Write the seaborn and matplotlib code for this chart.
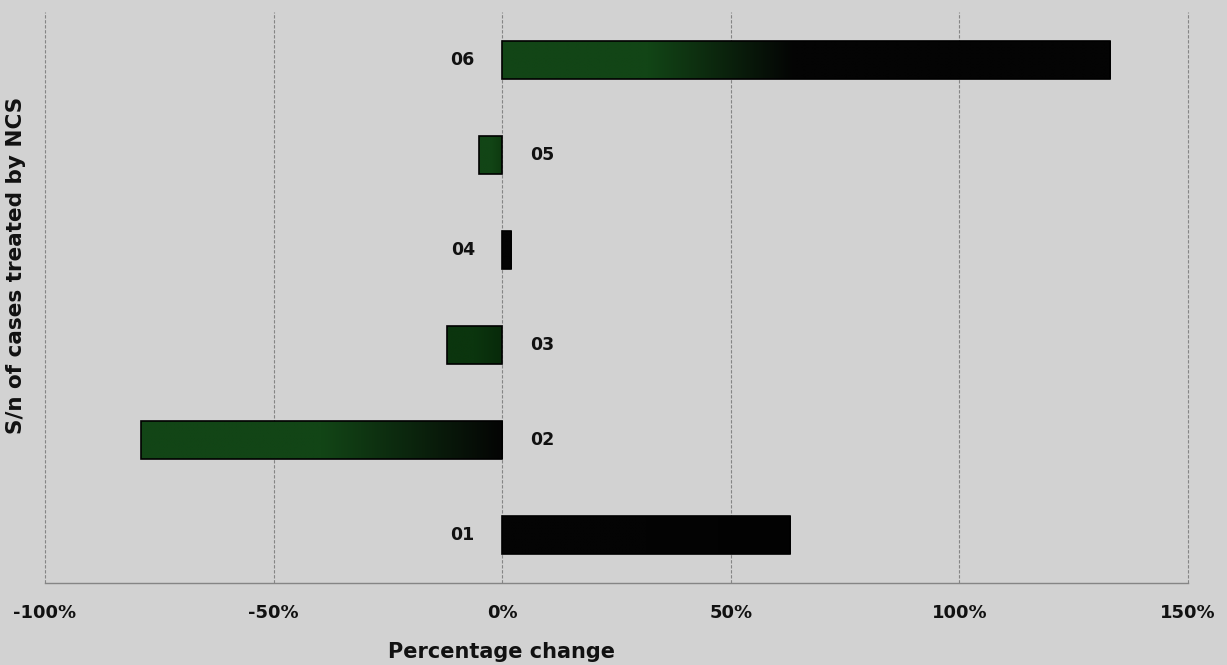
import numpy as np
import pandas as pd
import matplotlib
matplotlib.use("Agg")
import matplotlib.pyplot as plt
from matplotlib.colors import LinearSegmentedColormap, to_rgb
import seaborn as sns

# Data: percentage change per case
cases = ["06", "05", "04", "03", "02", "01"]
pct_change = [133, -5, 2, -12, -79, 63]
xticks = [-100, -50, 0, 50, 100, 150]
xtick_labels = ["-100%", "-50%", "0%", "50%", "100%", "150%"]

# Bar fill: start colour (left end) -> end colour (right end), and where the end colour is reached
GREEN = "#124516"
DARK_GREEN = "#0b350e"
BLACK = "#040404"
fills = {
    "06": (GREEN, BLACK, 0.48),
    "05": (GREEN, "#0e3a10", 1.0),
    "04": (BLACK, BLACK, 1.0),
    "03": (DARK_GREEN, "#082a0a", 1.0),
    "02": (GREEN, BLACK, 1.0),
    "01": (BLACK, "#020202", 1.0),
}

df = pd.DataFrame({"case": cases, "change": pct_change})

sns.set_theme(style="white")
plt.rcParams["font.family"] = ["DejaVu Sans"]

BG = "#d2d2d2"
fig = plt.figure(figsize=(12.27, 6.65), dpi=100, facecolor=BG)
ax = fig.add_axes([0.0367, 0.1233, 0.9315, 0.8587])
ax.set_facecolor(BG)

sns.barplot(data=df, x="change", y="case", order=cases, orient="h",
            color=BLACK, width=0.4, edgecolor="none", ax=ax, zorder=3)

# Horizontal gradient clipped to each bar
for patch, case in zip(ax.patches, cases):
    c0, c1, reach = fills[case]
    stops = [(0, to_rgb(c0)), (0.5 * reach, to_rgb(c0)), (reach, to_rgb(c1))]
    if reach < 1:
        stops.append((1, to_rgb(c1)))
    cmap = LinearSegmentedColormap.from_list("fill_" + case, stops)
    x0, y0 = patch.get_x(), patch.get_y()
    w, h = patch.get_width(), patch.get_height()
    grad = np.linspace(0, 1, 256).reshape(1, -1)
    im = ax.imshow(grad, cmap=cmap, aspect="auto",
                   extent=[min(x0, x0 + w), max(x0, x0 + w), y0 + h, y0],
                   zorder=4, interpolation="bilinear")
    im.set_clip_path(patch)
    patch.set_edgecolor("#000000")
    patch.set_linewidth(1.2)
    patch.set_zorder(5)
    patch.set_facecolor("none")

ax.set_xlim(-100, 150)
ax.set_ylim(len(cases) - 0.5, -0.5)

# Category labels sit at the zero line, opposite to the bar
for i, (case, val) in enumerate(zip(cases, pct_change)):
    if val >= 0:
        ax.text(-6, i, case, ha="right", va="center", fontsize=12.5,
                fontweight="bold", color="#111111", zorder=6)
    else:
        ax.text(6, i, case, ha="left", va="center", fontsize=12.5,
                fontweight="bold", color="#111111", zorder=6)

ax.set_yticks([])
ax.set_xticks(xticks)
ax.set_xticklabels(xtick_labels, fontsize=13, fontweight="bold", color="#111111")
ax.tick_params(axis="x", length=0, pad=15)

for x in xticks:
    ax.axvline(x, color="#858585", linewidth=0.8, linestyle=(0, (3, 1.5)),
               zorder=1, clip_on=False)

for side in ["top", "right", "left"]:
    ax.spines[side].set_visible(False)
ax.spines["bottom"].set_color("#858585")
ax.spines["bottom"].set_linewidth(1.0)

ax.set_xlabel("Percentage change", fontsize=15, fontweight="bold", color="#111111",
              va="center")
ax.xaxis.set_label_coords(0.399, -0.121)
ax.set_ylabel("S/n of cases treated by NCS", fontsize=15.5, fontweight="bold", color="#111111")
ax.yaxis.set_label_coords(-0.017, 0.557)

fig.savefig("out.png", dpi=100, facecolor=BG)
